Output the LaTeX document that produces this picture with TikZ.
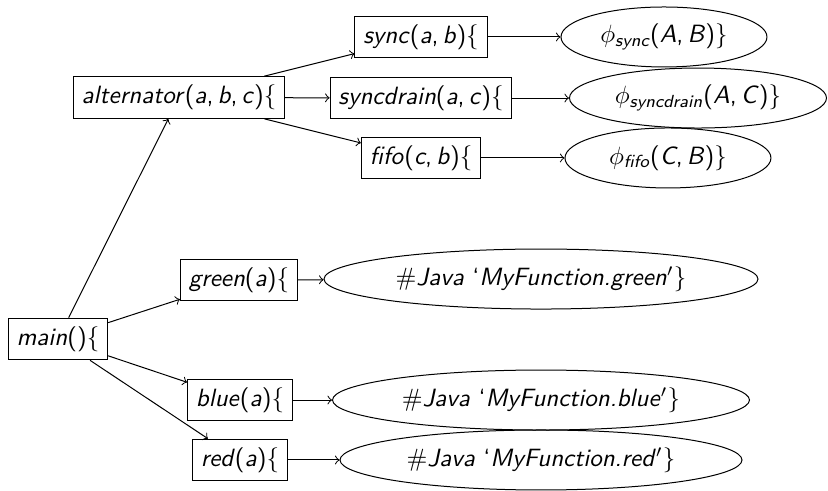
\documentclass[tikz,border=0pt]{standalone}
\usepackage{amsmath}
\usepackage{amssymb}
\usepackage{tikz}
\usetikzlibrary{arrows,shapes.geometric}
\newcommand{\sv}[1]{\textsl{#1}}

\begin{document}
\begin{tikzpicture}[font=\sffamily]
						\tikzstyle{func}=[rectangle,draw=black]
						\tikzstyle{body}=[ellipse,draw=black,inner sep=0pt,minimum height=24pt]
						\useasboundingbox (0,0) rectangle (11.641,6.889);
						% call tree
						\node[func] (main) at (0.815,2.123) {\sv{main}()\{};
						\node[func] (alt) at (2.517,5.518) {\sv{alternator}(\sv{a},\,\sv{b},\,\sv{c})\{};
						\node[func] (sync) at (5.919,6.369) {\sv{sync}(\sv{a},\,\sv{b})\{};
						\node[func] (drain) at (5.919,5.511) {\sv{syncdrain}(\sv{a},\,\sv{c})\{};
						\node[func] (fifo) at (5.919,4.668) {\sv{fifo}(\sv{c},\,\sv{b})\{};
						\node[func] (green) at (3.360,2.952) {\sv{green}(\sv{a})\{};
						\node[func] (blue) at (3.374,1.265) {\sv{blue}(\sv{a})\{};
						\node[func] (red) at (3.374,0.422) {\sv{red}(\sv{a})\{};
						% bodies
						\node[body,minimum width=82.4pt] (syncb) at (9.335,6.369) {$\phi_{\text{\slshape sync}}$(\sv{A},\,\sv{B})\}};
						\node[body,minimum width=102.8pt] (drainb) at (9.813,5.511) {$\phi_{\text{\slshape syncdrain}}$(\sv{A},\,\sv{C})\}};
						\node[body,minimum width=82.4pt] (fifob) at (9.391,4.668) {$\phi_{\text{\slshape fifo}}$(\sv{C},\,\sv{B})\}};
						\node[body,minimum width=173.6pt] (greenb) at (7.606,2.966) {$\#$\sv{Java} `\sv{MyFunction.green}$'$\}};
						\node[body,minimum width=166.8pt] (blueb) at (7.606,1.265) {$\#$\sv{Java} `\sv{MyFunction.blue}$'$\}};
						\node[body,minimum width=160.8pt] (redb) at (7.606,0.422) {$\#$\sv{Java} `\sv{MyFunction.red}$'$\}};
						\draw[->] (main) -- (alt);
						\draw[->] (main) -- (green);
						\draw[->] (main) -- (blue);
						\draw[->] (main) -- (red);
						\draw[->] (alt) -- (sync);
						\draw[->] (alt) -- (drain);
						\draw[->] (alt) -- (fifo);
						\draw[->] (sync) -- (syncb);
						\draw[->] (drain) -- (drainb);
						\draw[->] (fifo) -- (fifob);
						\draw[->] (green) -- (greenb);
						\draw[->] (blue) -- (blueb);
						\draw[->] (red) -- (redb);
						\end{tikzpicture}
\end{document}
